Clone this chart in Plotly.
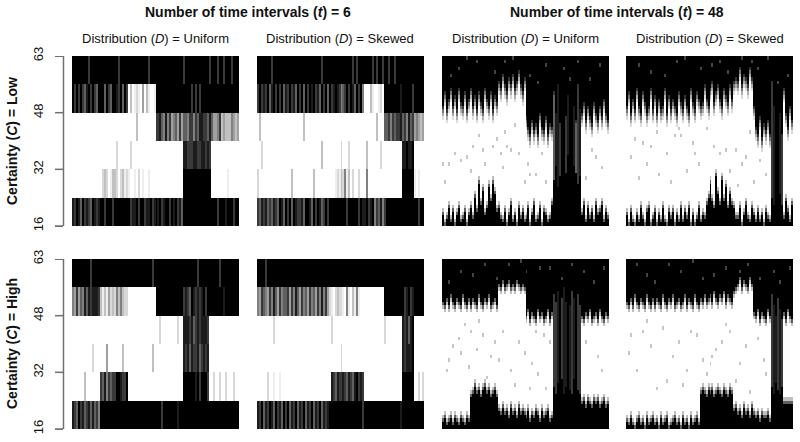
import plotly.graph_objects as go

W, H = 800, 442
PANEL_X = [(72, 239), (257, 424), (442, 609), (626, 793)]
PANEL_Y = [(56, 226), (259, 429)]
AXIS_X = (63.5, 72)
TICK_OUTER_X = 55
TICK_VALS = [16, 32, 48, 64]
TICK_TEXT = ["16", "32", "48", "63"]
AXIS_COLOR = "#707070"

COL_TITLES = ["Number of time intervals (<i>t</i>) = 6", "Number of time intervals (<i>t</i>) = 48"]
DIST_TITLES = ["Distribution (<i>D</i>) = Uniform", "Distribution (<i>D</i>) = Skewed"]
ROW_TITLES = ["Certainty (<i>C</i>) = Low", "Certainty (<i>C</i>) = High"]

# t = 6 panels: rows top to bottom, one digit per column, 0 white ... 9 black
LOW_6_UNIFORM = [
    "99999999799999 99999999979999 99999999997999 99999999999999 79999999999997 99979979997999",
    "97979768979769 99697699879697 03012104031001 99999999999999 99997979799999 99999999999999",
    "00000000000000 00000000000000 00003000000000 77865857456474 66577576887768 64457343335434",
    "00000000000000 00000000200000 02000000000000 00000000000000 88777887788787 00000000000000",
    "00000000000000 02320133202312 10010201001000 00000000000000 99999999999999 00000000100000",
    "87986978769878 99799979999999 97889799788978 98978997989786 99999999999999 99979998999799",
]
LOW_6_SKEWED = [
    "99999997999999 99999999999999 99997999999999 99999979799999 99797997997997 99999999999999",
    "79787968979796 87978697969798 97869796978987 56797986979500 03100120999999 99899999799999",
    "03000000000000 00000000030000 00000000000000 00000000000000 00003000667576 77867586745434",
    "00200000000000 00000000000000 00003000000000 20002000000003 00000020000000 00088988900000",
    "20000000000000 00030000000000 30000000000121 32513020020005 00000000000000 00099999910100",
    "76878676876986 97969877869986 97986797999999 99979999979889 78957685799999 99999999999799",
]
HIGH_6_UNIFORM = [
    "99999999979999 99999999999999 99999999999979 99999999999999 99999997999999 99997999999999",
    "54746586878887 31314232535322 00000000000000 99999999999999 78769878789799 99999989999999",
    "00000000000000 00000000000000 00000000000000 00200000000200 88878678788870 00000000000000",
    "00000000002000 00040000000300 00000000000030 00000000000000 87868778678780 00000000000000",
    "00000030000000 76857677998779 00000000000000 00000000000000 99999989799970 02002002000200",
    "87697867868675 99999999999999 99999999999999 99979999999899 99999999999999 99999999999999",
]
HIGH_6_SKEWED = [
    "99997999999999 99999999999999 99999999999999 99999999999999 99999999999999 99999999999999",
    "54765475864756 67475864756475 64758574210232 21051031510000 00000000999999 99997897899999",
    "00000000200000 00000000000000 00000000020000 00000000000000 00000000200000 00087868900000",
    "00000000000000 00000000000000 00000000000000 20000000000000 00000000000000 00087888900000",
    "00000200100100 00000000000000 00000000087687 78768768978700 00000000000000 00099999900202",
    "87968798697869 79687968796879 68796878999999 99999999999799 99999999999999 99899999999999",
]

# t = 48 panels: per column, row of the lower tip of the top mass
LOW_48_UNIFORM_TOP = [30,34,29,32,35,30,33,29,35,31,30,34,29,32, 35,30,33,29,34,31,29,35,32,30,34,29,33,31,
                      37,35,39,36,34,38,36,39,35,37,40,36,34,38, 27,24,22,26,23,25,22,28,24,23,27,22,25,24,
                      34,28,36,25,31,37,27,33,24,35,30,26,36,29, 28,31,26,30,27,25,31,28,26,30,27,32,28,26]
LOW_48_UNIFORM_BOT = [5,2,4,7,3,6,2,5,7,3,4,6,2,5, 7,4,10,6,14,8,12,5,7,13,9,14,11,6,
                      7,4,3,6,2,5,8,3,5,2,7,4,6,3, 4,7,2,5,8,3,4,7,2,6,5,3,4,8,
                      15,19,13,16,21,14,17,22,16,13,19,17,14,16, 5,8,3,7,4,6,3,8,5,6,8,3,6,4]
LOW_48_UNIFORM_MID = "00000000000000 00000000000000 00000000000000 00000000000000 68879978998678 00000000000000"

LOW_48_SKEWED_TOP = [30,34,28,32,29,35,30,28,34,31,28,30,35,29, 33,28,32,29,30,35,28,33,29,32,30,28,34,31,
                     29,33,30,28,35,31,29,34,32,30,31,36,32,30, 35,37,31,34,36,32,30,35,33,31,36,32,37,38,
                     37,41,36,39,38,36,41,38,30,24,22,27,21,25, 23,26,22,37,30,25,33,28,22,35,28,24,30,26]
LOW_48_SKEWED_BOT = [5,2,6,3,2,5,3,7,4,2,6,7,2,4, 6,2,5,3,7,3,2,6,4,6,2,5,3,7,
                     3,6,4,7,2,5,2,4,7,3,5,4,8,10, 14,9,7,16,11,8,15,9,13,7,11,8,7,4,
                     4,7,2,5,8,4,3,7,5,3,6,3,5,2, 6,4,3,10,8,12,9,11,8,4,9,6,3,8]
LOW_48_SKEWED_MID = "00000000000000 00000000000000 00000000000000 00000000000000 00000000000000 00078998700000"

HIGH_48_UNIFORM_TOP = [34,33,35,33,36,34,33,35,34,33,36,34,33,35, 33,35,34,33,36,34,33,35,34,36,33,34,35,33,
                       39,38,40,38,39,40,38,39,38,40,39,38,39,38, 30,32,29,31,30,29,32,30,31,29,30,32,29,31,
                       36,34,37,33,35,38,34,36,33,37,35,34,36,33, 30,29,31,30,32,29,30,31,29,32,30,29,31,30]
HIGH_48_UNIFORM_BOT = [4,5,3,4,5,3,5,4,3,5,4,3,5,4, 11,12,14,12,13,11,13,14,12,13,11,12,13,11,
                       7,6,8,6,7,5,8,6,7,5,8,6,7,6, 5,7,4,6,5,7,6,4,7,5,6,7,4,5,
                       14,12,15,13,16,12,14,15,13,12,16,14,13,12, 9,10,8,10,9,8,10,9,10,8,9,10,8,9]
HIGH_48_UNIFORM_MID = "00000000000000 00000000000000 00000000000000 00000000000000 77897889878977 00000000000000"

HIGH_48_SKEWED_TOP = [34,33,35,33,36,34,33,35,34,33,36,34,33,35, 33,35,34,33,36,34,33,35,34,36,33,34,35,33,
                      34,36,33,35,34,33,36,34,33,35,34,36,34,35, 36,34,37,35,34,36,35,37,34,36,35,34,37,38,
                      39,41,38,40,39,38,41,39,31,30,32,29,31,30, 29,32,30,36,33,30,35,32,29,31,29,32,30,29]
HIGH_48_SKEWED_BOT = [4,3,5,3,2,4,5,3,4,2,5,3,4,5, 3,4,2,5,3,4,5,2,3,4,5,3,4,2,
                      5,3,4,2,5,3,4,5,3,12,13,12,11,13, 12,13,11,12,13,12,11,13,12,11,13,12,7,8,
                      6,7,5,8,6,7,5,8,6,5,6,4,6,5, 5,6,4,14,12,15,13,12,14,9,9,9,9,9]
HIGH_48_SKEWED_MID = "00000000000000 00000000000000 00000000000000 00000000000000 00000000000000 00078878700000"

# isolated pale marks in the white area: column and row lists
LOW_48_UNIFORM_SPECK_C = [31,15,25,20,29,6,21,3,14,0,43,32,34,30,44,12,27,38,9,18,50,47,52,77,80,72,75,36,1,41]
LOW_48_UNIFORM_SPECK_R = [26,22,22,21,20,20,17,17,15,17,17,22,21,16,14,19,24,20,18,25,20,14,12,19,16,13,21,28,12,12]
LOW_48_SKEWED_SPECK_C = [40,24,27,47,33,55,60,6,16,2,10,36,50,22,58,62,4,44,30,12,67,70,56,20,8,26,52,15,34,64]
LOW_48_SKEWED_SPECK_R = [27,25,25,20,23,21,19,13,14,19,17,17,21,12,17,26,24,22,15,22,18,14,11,20,23,27,15,26,20,12]
HIGH_48_UNIFORM_SPECK_C = [11,14,20,26,17,5,9,24,30,38,45,51,34,3,22,41,48,13,8,28,52,54,44,78,72,80,36,18,2,47]
HIGH_48_UNIFORM_SPECK_R = [29,27,26,24,22,23,21,20,27,24,18,26,16,19,14,21,15,17,25,19,11,24,11,20,24,16,12,30,16,27]
HIGH_48_SKEWED_SPECK_C = [8,5,32,26,15,45,48,43,52,60,38,40,57,20,12,35,66,69,2,23,28,10,18,42,55,62,70,30,1,50]
HIGH_48_SKEWED_SPECK_R = [27,16,27,24,11,22,24,20,27,23,19,15,18,13,23,26,25,19,26,20,12,30,28,18,13,10,15,16,21,29]

# small dark grey flecks inside the top black mass: column and row lists
LOW_48_UNIFORM_FLECK_C = [8,17,26,35,44,52,61,68,74,79,4,31,48,64,12]
LOW_48_UNIFORM_FLECK_R = [44,46,43,47,42,45,44,46,41,45,42,46,40,41,47]
LOW_48_SKEWED_FLECK_C = [6,19,29,37,47,51,63,66,71,81,12,25,43,58,76]
LOW_48_SKEWED_FLECK_R = [45,42,47,44,46,43,46,44,47,42,43,46,45,47,40]
HIGH_48_UNIFORM_FLECK_C = [9,21,27,39,42,54,60,65,71,76,81,15,33,49,3]
HIGH_48_UNIFORM_FLECK_R = [44,46,42,47,44,45,42,46,44,41,45,43,46,45,41]
HIGH_48_SKEWED_FLECK_C = [5,14,27,33,44,50,61,67,74,77,82,21,38,57,10]
HIGH_48_SKEWED_FLECK_R = [46,41,44,47,43,45,46,42,44,41,45,46,42,44,43]

GRADIENT_LOW, GRADIENT_HIGH = 5, 3
BOTTOM_GRADIENT = 3
GRAYS = ["#ffffff", "#eeeeee", "#d8d8d8", "#c0c0c0", "#a0a0a0", "#808080", "#606060", "#3a3a3a", "#1c1c1c", "#000000"]


def rows_to_z(rows):
    z = [[int(c) / 9 for c in row.replace(" ", "")] for row in rows]
    return z[::-1]


def edges_to_z(top, bot, mid, spc, spr, flc, flr, grad):
    mid = mid.replace(" ", "")
    z = []
    for r in range(48):
        line = []
        for c in range(84):
            a = min(1, max(0, (r - top[c] + 1) / grad))
            b = min(1, max(0, (bot[c] - r) / BOTTOM_GRADIENT))
            m = int(mid[c]) / 9
            line.append(max(a, b, m))
        z.append(line)
    for c, r in zip(spc, spr):
        z[r][c] = max(z[r][c], 0.3)
    for c, r in zip(flc, flr):
        z[r][c] = min(z[r][c], 0.75)
    return z


Z = [
    [rows_to_z(LOW_6_UNIFORM), rows_to_z(LOW_6_SKEWED),
     edges_to_z(LOW_48_UNIFORM_TOP, LOW_48_UNIFORM_BOT, LOW_48_UNIFORM_MID, LOW_48_UNIFORM_SPECK_C, LOW_48_UNIFORM_SPECK_R,
                LOW_48_UNIFORM_FLECK_C, LOW_48_UNIFORM_FLECK_R, GRADIENT_LOW),
     edges_to_z(LOW_48_SKEWED_TOP, LOW_48_SKEWED_BOT, LOW_48_SKEWED_MID, LOW_48_SKEWED_SPECK_C, LOW_48_SKEWED_SPECK_R,
                LOW_48_SKEWED_FLECK_C, LOW_48_SKEWED_FLECK_R, GRADIENT_LOW)],
    [rows_to_z(HIGH_6_UNIFORM), rows_to_z(HIGH_6_SKEWED),
     edges_to_z(HIGH_48_UNIFORM_TOP, HIGH_48_UNIFORM_BOT, HIGH_48_UNIFORM_MID, HIGH_48_UNIFORM_SPECK_C, HIGH_48_UNIFORM_SPECK_R,
                HIGH_48_UNIFORM_FLECK_C, HIGH_48_UNIFORM_FLECK_R, GRADIENT_HIGH),
     edges_to_z(HIGH_48_SKEWED_TOP, HIGH_48_SKEWED_BOT, HIGH_48_SKEWED_MID, HIGH_48_SKEWED_SPECK_C, HIGH_48_SKEWED_SPECK_R,
                HIGH_48_SKEWED_FLECK_C, HIGH_48_SKEWED_FLECK_R, GRADIENT_HIGH)],
]
COLORSCALE = [[i / 9, g] for i, g in enumerate(GRAYS)]

fig = go.Figure()
layout = dict(
    width=W, height=H, margin=dict(l=0, r=0, t=0, b=0, autoexpand=False), paper_bgcolor="white",
    plot_bgcolor="rgba(0,0,0,0)", showlegend=False, annotations=[], shapes=[],
    font=dict(family="Liberation Sans, Arial, sans-serif", color="#111111"),
)

n = 0
for ri, (y0, y1) in enumerate(PANEL_Y):
    for ci, (x0, x1) in enumerate(PANEL_X):
        n += 1
        suffix = "" if n == 1 else str(n)
        z = Z[ri][ci]
        nrows = len(z)
        y_edges = [16 + 48 * k / nrows for k in range(nrows + 1)]
        x_edges = list(range(85))
        fig.add_trace(go.Heatmap(
            z=z, x=x_edges, y=y_edges, colorscale=COLORSCALE, zmin=0, zmax=1,
            showscale=False, hoverinfo="skip", xaxis=f"x{suffix}", yaxis=f"y{suffix}",
        ))
        layout[f"xaxis{suffix}"] = dict(domain=[x0 / W, x1 / W], range=[0, 84], visible=False,
                                        anchor=f"y{suffix}", fixedrange=True)
        layout[f"yaxis{suffix}"] = dict(domain=[1 - y1 / H, 1 - y0 / H], range=[16, 64], visible=False,
                                        anchor=f"x{suffix}", fixedrange=True)

# the two visible y axes sit on narrow subplots of their own, left of the first column
for ri, (y0, y1) in enumerate(PANEL_Y):
    n += 1
    suffix = str(n)
    fig.add_trace(go.Scatter(x=[], y=[], xaxis=f"x{suffix}", yaxis=f"y{suffix}", hoverinfo="skip"))
    layout[f"xaxis{suffix}"] = dict(domain=[AXIS_X[0] / W, AXIS_X[1] / W], range=[0, 1], visible=False,
                                    anchor=f"y{suffix}", fixedrange=True)
    layout[f"yaxis{suffix}"] = dict(
        domain=[1 - y1 / H, 1 - y0 / H], range=[16, 64], anchor=f"x{suffix}",
        tickvals=TICK_VALS, ticktext=TICK_TEXT, tickangle=-90, ticks="outside", ticklen=8,
        tickcolor=AXIS_COLOR, tickwidth=1, showline=True, linecolor=AXIS_COLOR, linewidth=1,
        showgrid=False, zeroline=False, tickfont=dict(size=13), ticklabelstandoff=6,
        fixedrange=True,
    )
    line = dict(color=AXIS_COLOR, width=1.5)
    layout["shapes"].append(dict(type="line", xref="paper", yref=f"y{suffix}", x0=AXIS_X[0] / W, x1=AXIS_X[0] / W,
                                 y0=TICK_VALS[0], y1=TICK_VALS[-1], line=line, layer="above"))
    for v in TICK_VALS:
        layout["shapes"].append(dict(type="line", xref="paper", yref=f"y{suffix}", x0=TICK_OUTER_X / W, x1=AXIS_X[0] / W,
                                     y0=v, y1=v, line=line, layer="above"))


def note(x, y, text, size, bold=False, angle=0):
    layout["annotations"].append(dict(
        xref="paper", yref="paper", x=x / W, y=1 - y / H, text=f"<b>{text}</b>" if bold else text,
        showarrow=False, xanchor="center", yanchor="middle", textangle=angle, font=dict(size=size),
    ))


note(248, 12, COL_TITLES[0], 14, bold=True)
note(617, 12, COL_TITLES[1], 14, bold=True)
for k, cx in enumerate([155, 340, 525, 710]):
    note(cx, 38, DIST_TITLES[k % 2], 13)
note(12, 141, ROW_TITLES[0], 14, bold=True, angle=-90)
note(12, 344, ROW_TITLES[1], 14, bold=True, angle=-90)

fig.update_layout(**layout)
fig.write_html("out.html", post_script="document.body.style.margin='0';", config={"displayModeBar": False})
